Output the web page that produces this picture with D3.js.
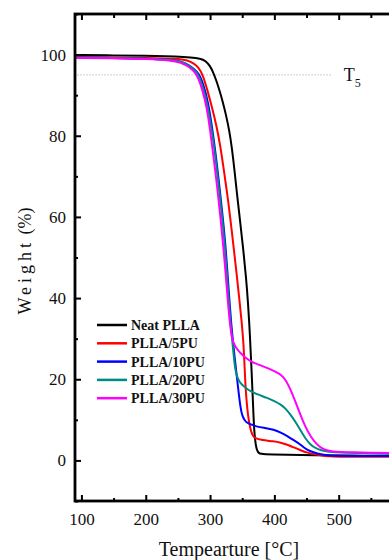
<!DOCTYPE html>
<html>
<head>
<meta charset="utf-8">
<script src="https://cdn.jsdelivr.net/npm/d3@7"></script>
<style>
  html, body { margin: 0; padding: 0; background: #fff; overflow: hidden; }
  svg { display: block; }
  .tick text { font-family: "Liberation Serif", "Times New Roman", serif; font-size: 17px; fill: #111; }
</style>
</head>
<body>
<div id="chart"></div>
<script>
// TGA curves: [temperature °C, weight %]
var neatPLLA = [[91,99.9],[150,99.8],[200,99.7],[250,99.5],[270,99.3],[285,99.0],[293,98.5],[300,97.2],[305,95.6],[310,93.5],[315,91.0],[320,88.2],[325,85.0],[330,81.2],[334,77.0],[338,71.5],[342,65.5],[347,58.5],[352,51.5],[356,45.0],[359,39.0],[362,31.0],[364,24.0],[366,17.0],[367.5,11.0],[369,6.5],[371,3.8],[373,2.4],[376,1.7],[381,1.5],[420,1.4],[460,1.3],[520,1.2],[600,1.1]];
var pu5 = [[91,99.4],[150,99.3],[200,99.2],[250,99.0],[265,98.6],[275,97.8],[282,96.8],[288,95.3],[296,91.2],[303,87.0],[310,82.5],[316,77.5],[321,72.0],[327,65.4],[332,59.0],[337,52.0],[341,46.5],[345,40.5],[349,34.5],[352,29.0],[354,22.0],[355.5,17.0],[358,12.5],[360,10.0],[363,7.5],[366,6.2],[370,5.4],[380,5.0],[399,4.7],[410,4.4],[420,3.9],[430,3.2],[441,2.5],[451,1.9],[465,1.4],[477,1.1],[500,0.9],[600,0.9]];
var pu10 = [[91,99.3],[150,99.2],[200,99.0],[240,98.8],[258,98.2],[268,97.3],[276,96.3],[282.5,95.4],[290,92.5],[297,88.5],[306,79.0],[311,72.5],[316,65.4],[320,59.5],[324,53.0],[327,46.5],[330,39.5],[333,33.5],[335.5,29.5],[338,25.7],[341,21.5],[344.6,16.5],[347.5,12.8],[350,11.0],[354,9.8],[358,9.2],[365,8.8],[373,8.3],[385,8.0],[399,7.6],[410,6.9],[420,6.0],[430,5.0],[440,4.0],[447,3.0],[455,2.3],[466,1.7],[482,1.2],[500,1.1],[600,1.1]];
var pu20 = [[91,99.3],[150,99.2],[200,99.0],[240,98.8],[257,98.2],[267,97.3],[275,96.3],[281,95.4],[288,92.5],[296,88.0],[305,79.0],[310,72.5],[315,65.4],[319,59.5],[323,53.0],[326,46.5],[329,39.5],[332,33.5],[334.5,29.5],[337,25.5],[339,22.5],[342,20.5],[346,19.3],[350,18.6],[356,17.8],[363,17.0],[375,16.2],[389,15.4],[400,14.6],[410,13.8],[418,12.7],[425,11.3],[433,9.5],[440,7.6],[448,5.4],[456,3.9],[464,3.0],[472,2.5],[485,2.1],[500,1.9],[600,1.6]];
var pu30 = [[91,99.2],[150,99.1],[200,98.9],[240,98.6],[255,98.0],[265,97.2],[272,96.3],[278,95.4],[285,93.0],[292,89.0],[297,85.0],[302,79.0],[308,71.5],[312.5,65.4],[317,58.5],[321,52.0],[324,46.5],[327,40.5],[330,35.0],[333,31.0],[336,29.0],[341,27.6],[347,26.5],[355,25.3],[363,24.4],[375,23.6],[389,22.8],[400,22.0],[410,21.2],[418,19.8],[425,17.5],[432,14.8],[440,11.4],[448,8.3],[456,6.0],[464,4.3],[472,3.1],[480,2.5],[490,2.2],[510,2.0],[600,1.8]];

var seriesNames = ['Neat PLLA', 'PLLA/5PU', 'PLLA/10PU', 'PLLA/20PU', 'PLLA/30PU'];
var seriesColors = ['#000000', '#ff0000', '#0000ff', '#008b80', '#ff00ff'];
var seriesData = [neatPLLA, pu5, pu10, pu20, pu30];

var xTicks = [100, 200, 300, 400, 500, 600];
var xLabels = [100, 200, 300, 400, 500];
var xMinor = [150, 250, 350, 450, 550];
var yTicks = [0, 20, 40, 60, 80, 100];
var yMinor = [-10, 10, 30, 50, 70, 90, 110];
var t5Level = 95;

var width = 389;
var height = 560;
// plot box (right edge sits past the window, as in the cropped figure)
var padL = 75, padT = 14, padB = 501, padR = 403;

var svg = d3.select('#chart')
  .append('svg')
  .attr('width', width)
  .attr('height', height);

var x = d3.scaleLinear().domain([90, 600]).range([padL, padR]);
var y = d3.scaleLinear().domain([-10, 110]).range([padB, padT]);

var font = '"Liberation Serif", "Times New Roman", serif';

// T5 reference line
svg.append('line')
  .attr('x1', x(94)).attr('x2', x(490))
  .attr('y1', y(t5Level)).attr('y2', y(t5Level))
  .attr('stroke', '#9a9a9a')
  .attr('stroke-width', 1)
  .attr('stroke-dasharray', '1,2');

var t5 = svg.append('text')
  .attr('x', x(508)).attr('y', y(t5Level) + 6)
  .attr('font-family', font)
  .attr('font-size', 18)
  .attr('fill', '#111');
t5.append('tspan').text('T');
t5.append('tspan').attr('dy', 6).attr('font-size', 12).text('5');

// curves
var line = d3.line()
  .x(function(d) { return x(d[0]); })
  .y(function(d) { return y(d[1]); })
  .curve(d3.curveBasis);

svg.append('g').selectAll('path')
  .data(seriesData)
  .enter()
  .append('path')
  .attr('d', line)
  .attr('fill', 'none')
  .attr('stroke', function(d, i) { return seriesColors[i]; })
  .attr('stroke-width', 2);

// axes, ticks pointing inward
function styleAxis(g) {
  g.select('.domain').remove();
  g.selectAll('.tick line').attr('stroke', '#000').attr('stroke-width', 2);
}

svg.append('g')
  .attr('transform', 'translate(0,' + padB + ')')
  .call(d3.axisBottom(x).tickValues(xTicks).tickSize(-6).tickFormat(''))
  .call(styleAxis);
svg.append('g')
  .attr('transform', 'translate(0,' + padB + ')')
  .call(d3.axisBottom(x).tickValues(xLabels).tickSize(0).tickPadding(12).tickFormat(d3.format('d')))
  .call(styleAxis);
svg.append('g')
  .attr('transform', 'translate(0,' + padB + ')')
  .call(d3.axisBottom(x).tickValues(xMinor).tickSize(-3).tickFormat(''))
  .call(styleAxis);
svg.append('g')
  .attr('transform', 'translate(0,' + padT + ')')
  .call(d3.axisTop(x).tickValues(xTicks).tickSize(-6).tickFormat(''))
  .call(styleAxis);
svg.append('g')
  .attr('transform', 'translate(0,' + padT + ')')
  .call(d3.axisTop(x).tickValues(xMinor).tickSize(-4).tickFormat(''))
  .call(styleAxis);
svg.append('g')
  .attr('transform', 'translate(' + padL + ',0)')
  .call(d3.axisLeft(y).tickValues(yTicks).tickSize(-6).tickPadding(9).tickFormat(d3.format('d')))
  .call(styleAxis);
svg.append('g')
  .attr('transform', 'translate(' + padL + ',0)')
  .call(d3.axisLeft(y).tickValues(yMinor).tickSize(-3).tickFormat(''))
  .call(styleAxis);

// frame
svg.append('rect')
  .attr('x', padL).attr('y', padT)
  .attr('width', padR - padL).attr('height', padB - padT)
  .attr('fill', 'none')
  .attr('stroke', '#000')
  .attr('stroke-width', 2.8);

// axis titles
svg.append('text')
  .attr('x', 229).attr('y', 556)
  .attr('text-anchor', 'middle')
  .attr('font-family', font)
  .attr('font-size', 20)
  .attr('fill', '#111')
  .text('Tempearture [°C]');

var yt = svg.append('text')
  .attr('transform', 'translate(31,261) rotate(-90)')
  .attr('text-anchor', 'middle')
  .attr('font-family', font)
  .attr('font-size', 18)
  .attr('fill', '#111');
yt.append('tspan').attr('letter-spacing', 4).text('Weight');
yt.append('tspan').text(' (%)');

// legend
var legend = svg.append('g').attr('transform', 'translate(97,325)');
var rows = legend.selectAll('g')
  .data(seriesNames)
  .enter()
  .append('g')
  .attr('transform', function(d, i) { return 'translate(0,' + (i * 18.3) + ')'; });
rows.append('line')
  .attr('x1', 0).attr('x2', 30)
  .attr('stroke', function(d, i) { return seriesColors[i]; })
  .attr('stroke-width', 2.5);
rows.append('text')
  .attr('x', 34).attr('y', 5)
  .attr('font-family', font)
  .attr('font-weight', 'bold')
  .attr('font-size', 14)
  .attr('fill', '#111')
  .text(function(d) { return d; });
</script>
</body>
</html>
